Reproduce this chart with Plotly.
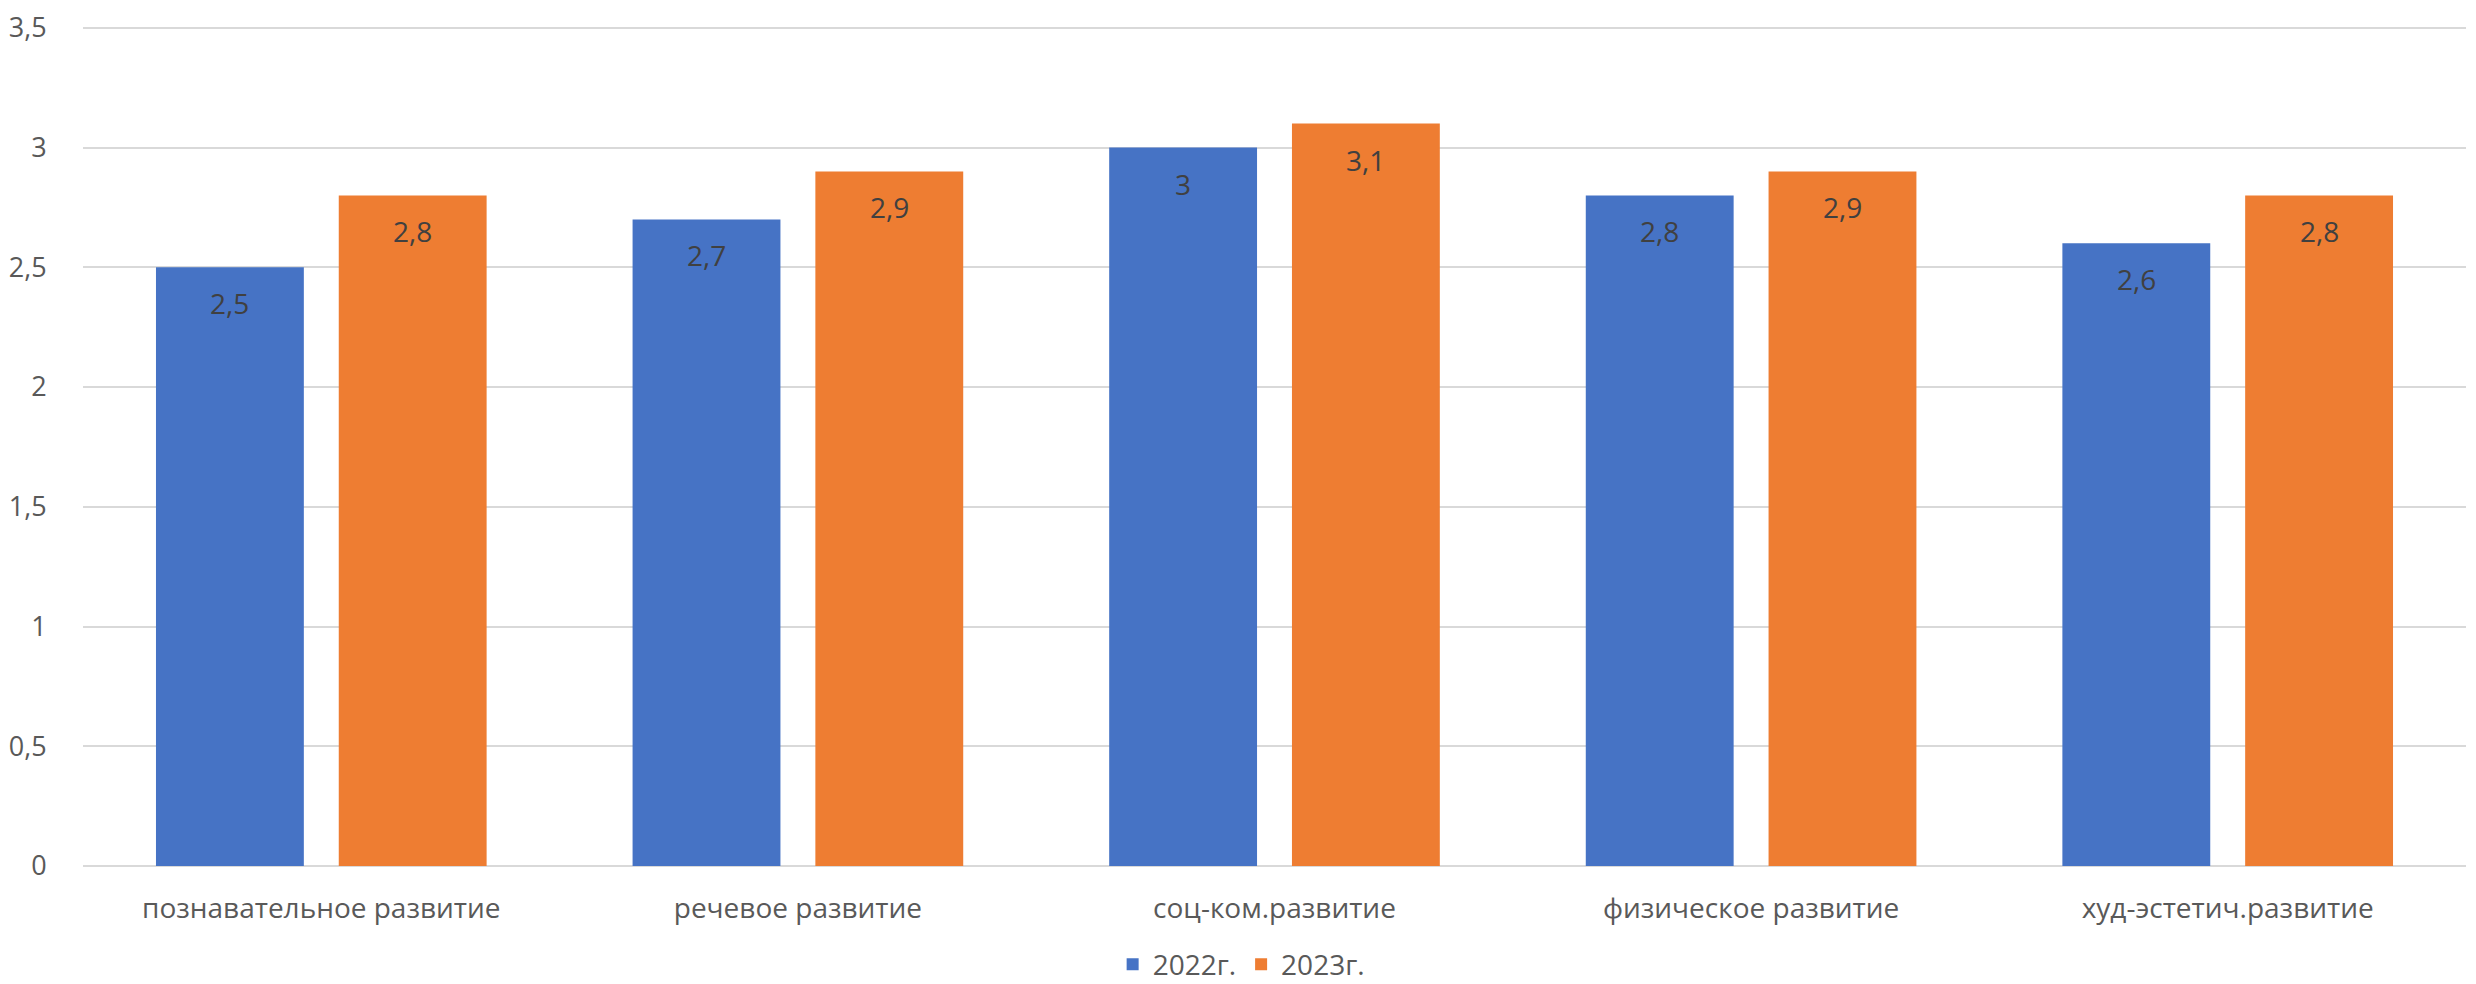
import plotly.graph_objects as go

categories = ["познавательное развитие", "речевое развитие", "соц-ком.развитие",
              "физическое развитие", "худ-эстетич.развитие"]
series_names = ["2022г.", "2023г."]
values_2022 = [2.5, 2.7, 3.0, 2.8, 2.6]
values_2023 = [2.8, 2.9, 3.1, 2.9, 2.8]
y_max = 3.5
y_step = 0.5

colors = ["#4673C5", "#EE7D32"]
FONT = "Open Sans"

def fmt(v):
    s = ("%.1f" % v).rstrip("0").rstrip(".")
    return s.replace(".", ",")

fig = go.Figure()
for name, vals, col in zip(series_names, [values_2022, values_2023], colors):
    fig.add_trace(go.Bar(x=categories, y=vals, name=name,
                         marker=dict(color=col, line=dict(width=0))))

W, H = 2468, 976
ml, mr, mt, mb = 75, 10, 15, 118
plot_w = W - ml - mr
cat_w = plot_w / len(categories)
bargap = 0.233
slot = cat_w * (1 - bargap) / 2

annotations = []
for vals, shift in [(values_2022, -slot / 2), (values_2023, slot / 2)]:
    for c, v in zip(categories, vals):
        annotations.append(dict(x=c, y=v, xref="x", yref="y", text=fmt(v),
                                showarrow=False, xshift=shift, yshift=-36,
                                font=dict(family=FONT, size=28, color="#404040")))

fig.update_layout(
    width=W, height=H,
    margin=dict(l=ml, r=mr, t=mt, b=mb, autoexpand=False),
    paper_bgcolor="white", plot_bgcolor="white",
    barmode="group", bargap=bargap, bargroupgap=0.191,
    font=dict(family=FONT, color="#595959"),
    separators=", ",
    annotations=annotations,
    legend=dict(orientation="h", x=0.486, xanchor="center",
                yref="container", y=0.02, yanchor="middle",
                font=dict(family=FONT, size=28, color="#595959"), itemwidth=30),
    showlegend=True,
)
fig.update_yaxes(range=[0, y_max + 0.02], tickmode="linear", tick0=0, dtick=y_step,
                 automargin=False, ticklabeloverflow="allow",
                 showgrid=True, gridcolor="#D9D9D9", gridwidth=2,
                 zeroline=True, zerolinecolor="#D9D9D9", zerolinewidth=2,
                 ticks="outside", ticklen=30, tickcolor="rgba(0,0,0,0)",
                 tickfont=dict(family=FONT, size=27, color="#595959"))
fig.update_xaxes(showgrid=False, showline=False, automargin=False,
                 ticks="outside", ticklen=17, tickcolor="rgba(0,0,0,0)",
                 tickfont=dict(family=FONT, size=28, color="#595959"))

fig.write_html("out.html")
